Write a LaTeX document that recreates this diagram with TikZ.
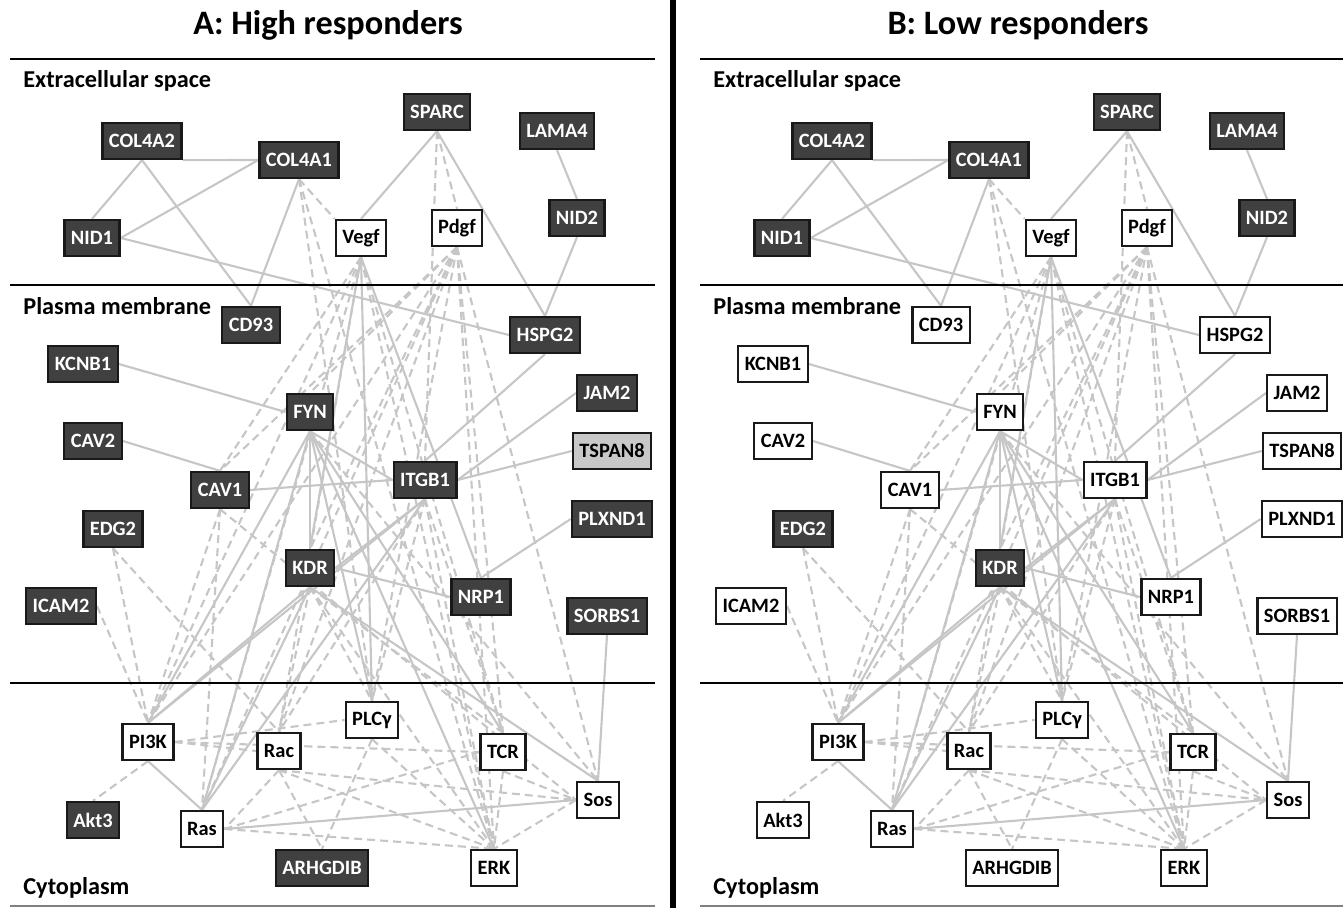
\documentclass[tikz,border=0pt]{standalone}
\usepackage{fontspec}
\setmainfont{Carlito}
\usetikzlibrary{backgrounds}
\definecolor{darkbox}{HTML}{404040}
\definecolor{lightbox}{HTML}{C8C8C8}
\definecolor{edgegray}{HTML}{C6C6C6}
\tikzset{
  gene/.style={draw=black!90, line width=1.3pt, minimum height=7.2mm, inner xsep=1.3mm, inner ysep=0pt, font=\fontsize{11.6}{13}\selectfont\bfseries},
  dk/.style={gene, fill=darkbox, text=white},
  wt/.style={gene, fill=white, text=black},
  lt/.style={gene, fill=lightbox, text=black},
  link/.style={draw=edgegray, line width=1.2pt},
  dlink/.style={link, dash pattern=on 1.6mm off 1mm},
  sep/.style={line width=1.1pt},
  region/.style={anchor=west, inner xsep=0pt, font=\fontsize{13.8}{16}\selectfont\bfseries},
  paneltitle/.style={font=\fontsize{19.5}{22}\selectfont\bfseries}
}
\begin{document}
\begin{tikzpicture}[x=0.2mm, y=-0.2mm]
  \def\network{%
    \node[fix] (COL4A2) at (142,141) {COL4A2};
    \node[fix] (COL4A1) at (299,160) {COL4A1};
    \node[fix] (SPARC) at (437,112) {SPARC};
    \node[fix] (LAMA4) at (557,131) {LAMA4};
    \node[fix] (NID1) at (92,238) {NID1};
    \node[wt] (Vegf) at (361,238) {Vegf};
    \node[wt] (Pdgf) at (457,228) {Pdgf};
    \node[fix] (NID2) at (577,218) {NID2};
    \node[chg] (CD93) at (251,325) {CD93};
    \node[chg] (HSPG2) at (545,335) {HSPG2};
    \node[chg] (KCNB1) at (83,364) {KCNB1};
    \node[chg] (FYN) at (310,412) {FYN};
    \node[chg] (JAM2) at (607,393) {JAM2};
    \node[chg] (CAV2) at (93,441) {CAV2};
    \node[tsp] (TSPAN8) at (612,451) {TSPAN8};
    \node[chg] (CAV1) at (220,490) {CAV1};
    \node[chg] (ITGB1) at (425,480) {ITGB1};
    \node[fix] (EDG2) at (113,529) {EDG2};
    \node[chg] (PLXND1) at (612,519) {PLXND1};
    \node[fix] (KDR) at (310,568) {KDR};
    \node[chg] (NRP1) at (481,597) {NRP1};
    \node[chg] (ICAM2) at (61,606) {ICAM2};
    \node[chg] (SORBS1) at (607,616) {SORBS1};
    \node[wt] (PLCy) at (372,720) {PLCγ};
    \node[wt] (PI3K) at (148,742) {PI3K};
    \node[wt] (Rac) at (279,751) {Rac};
    \node[wt] (TCR) at (503,752) {TCR};
    \node[wt] (Sos) at (598,800) {Sos};
    \node[chg] (Akt3) at (93,820) {Akt3};
    \node[wt] (Ras) at (202,829) {Ras};
    \node[chg] (ARHGDIB) at (322,868) {ARHGDIB};
    \node[wt] (ERK) at (494,868) {ERK};
    \begin{scope}[on background layer]
      \foreach \a/\b in {COL4A2.south east/COL4A1.west, COL4A2.south/NID1.north,
        COL4A2.south/CD93.north, COL4A1.west/NID1.east, COL4A1.south/CD93.north,
        NID1.east/HSPG2.west, SPARC.south/Vegf.north, SPARC.south/HSPG2.north,
        LAMA4.south/NID2.north, NID2.south/HSPG2.north, HSPG2.south/ITGB1.north,
        KCNB1.east/FYN.west, CAV2.east/CAV1.north, CAV1.east/ITGB1.west,
        FYN.south/ITGB1.west, FYN.south/KDR.north, JAM2.west/ITGB1.east,
        TSPAN8.west/ITGB1.east, PLXND1.west/NRP1.north, KDR.east/NRP1.west,
        Vegf.south/NRP1.north, Vegf.south/KDR.north, Vegf.south/PLCy.north,
        ITGB1.south/KDR.east, SORBS1.south/Sos.north, KDR.south/Sos.north,
        FYN.south/PI3K.north, FYN.south/Ras.north, FYN.south/PLCy.north,
        FYN.south/TCR.north, FYN.south/ERK.north, KDR.south/PI3K.north,
        KDR.south/Ras.north, ITGB1.south/PI3K.north, ITGB1.south/Ras.north,
        PI3K.south/Ras.north, Ras.east/Sos.west}
        \draw[link] (\a) -- (\b);
      \foreach \a/\b in {SPARC.south/Pdgf.north, SPARC.south/ITGB1.north,
        COL4A1.south/Vegf.north west, COL4A1.south/PLCy.north, COL4A1.south/ERK.north,
        Vegf.south/CAV1.north, Vegf.south/PI3K.north, Vegf.south/Ras.north,
        Vegf.south/Rac.north, Vegf.south/ERK.north, Vegf.south/TCR.north,
        Pdgf.south/CAV1.north, Pdgf.south/FYN.north, Pdgf.south/PI3K.north,
        Pdgf.south/Ras.north, Pdgf.south/KDR.north, Pdgf.south/Rac.north,
        Pdgf.south/PLCy.north, Pdgf.south/ERK.north, Pdgf.south/TCR.north,
        Pdgf.south/Sos.north, ITGB1.south/Rac.north, ITGB1.south/PLCy.north,
        ITGB1.south/ERK.north, ITGB1.south/TCR.north, KDR.south/Rac.north,
        KDR.south/PLCy.north, KDR.south/ERK.north, KDR.south/TCR.north,
        FYN.south/Sos.north, CAV1.south/PI3K.north, CAV1.south/Ras.north,
        CAV1.south/Sos.west, EDG2.south/PI3K.north, EDG2.south/Rac.north,
        ICAM2.east/PI3K.north, PI3K.south/Akt3.north, PI3K.east/PLCy.west,
        PI3K.east/Rac.west, PI3K.east/TCR.west, Rac.south/Ras.east,
        Rac.south/ARHGDIB.north, Rac.south/Sos.west, Rac.south/ERK.north,
        Ras.east/TCR.west, Ras.east/ERK.north, PLCy.south/ERK.north,
        PLCy.south/ARHGDIB.north, TCR.south/ERK.north, TCR.south/Sos.west,
        Sos.west/ERK.north}
        \draw[dlink] (\a) -- (\b);
    \end{scope}
    \draw[sep] (10,59) -- (655,59);
    \draw[sep] (10,285) -- (655,285);
    \draw[sep] (10,683) -- (655,683);
    \draw[gray, line width=0.6pt] (10,906) -- (655,906);
    \node[region] (extra) at (23,81) {Extracellular space};
    \node[region] (membrane) at (23,306) {Plasma membrane};
    \node[region] (cyto) at (23,888) {Cytoplasm};
  }
  \useasboundingbox (0,0) rectangle (1343,908);
  \begin{scope}[name prefix=A-, fix/.style=dk, chg/.style=dk, tsp/.style=lt]
    \network
    \node[paneltitle] (title) at (328,25) {A: High responders};
  \end{scope}
  \begin{scope}[shift={(690,0)}, name prefix=B-, fix/.style=dk, chg/.style=wt, tsp/.style=wt]
    \network
    \node[paneltitle] (title) at (328,25) {B: Low responders};
  \end{scope}
  \draw[line width=3.4pt] (673,0) -- (673,908);
\end{tikzpicture}
\end{document}
